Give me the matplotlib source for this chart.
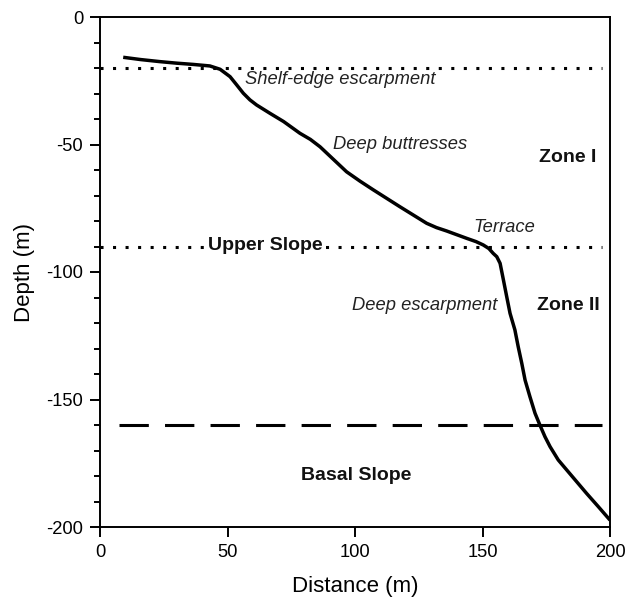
import matplotlib
matplotlib.use("Agg")
import matplotlib.pyplot as plt
from matplotlib.ticker import MultipleLocator

plt.rcParams['font.family'] = ['Liberation Sans', 'DejaVu Sans']
plt.rcParams['axes.unicode_minus'] = False

# ---- profile ----
distance = [9.1, 16, 23.5, 30, 36.6, 43.1, 47.1, 51.0, 53.5, 56.2, 58.8, 61.4,
            66.7, 72.0, 78.4, 82.5, 86.3, 91.5, 96.7, 102.0, 107.2, 117.6,
            128.1, 132.0, 135.9, 143.8, 147.5, 150.3, 152.5, 154.2, 155.6,
            156.9, 158.2, 159.5, 160.8, 162.7, 164.0, 165.4, 166.7, 168.6,
            170.6, 172.5, 174.5, 176.5, 179.7, 183.0, 186.9, 190.8, 195.4, 200.0]
depth = [-15.8, -16.7, -17.5, -18.1, -18.6, -19.2, -20.5, -23.4, -26.5, -29.9,
         -32.5, -34.5, -37.8, -41.0, -45.6, -48.0, -50.9, -55.8, -60.7, -64.4,
         -67.8, -74.4, -80.9, -82.6, -83.9, -86.8, -88.1, -89.4, -90.8, -92.7,
         -94.0, -96.6, -103.1, -109.7, -116.2, -122.7, -129.3, -135.8, -142.4,
         -148.9, -155.4, -160.0, -164.6, -168.5, -173.7, -177.6, -182.2,
         -186.8, -192.0, -197.3]

zone_lines = [-20, -90]      # dotted
basal_line = -160            # dashed

labels_italic = [("Shelf-edge escarpment", 57, -24.5),
                 ("Deep buttresses", 91.5, -50.0),
                 ("Terrace", 146.3, -82.4),
                 ("Deep escarpment", 98.8, -113)]
labels_bold = [("Zone I", 183.3, -55.0),
               ("Zone II", 183.7, -113.2),
               ("Basal Slope", 100.6, -179.8)]

fig = plt.figure(figsize=(6.3, 5.98), dpi=100)
ax = fig.add_axes([100/630, 1-527/598, 510/630, 510/598])

for y in zone_lines:
    ax.plot([0, 197], [y, y], color='black', lw=2.2, linestyle=(0, (1, 3.1)),
            dash_capstyle='butt', zorder=1)
ax.plot([7.4, 197], [basal_line, basal_line], color='black', lw=2.2,
        linestyle=(0, (9.6, 5.3)), dash_capstyle='butt', zorder=1)

ax.plot(distance, depth, color='black', lw=2.5, solid_capstyle='butt',
        solid_joinstyle='round', zorder=3)

for txt, x, y in labels_italic:
    ax.text(x, y, txt, fontsize=13.2, style='italic', ha='left', va='center',
            color='#222222')
for txt, x, y in labels_bold:
    ax.text(x, y, txt, fontsize=14, fontweight='bold', ha='center', va='center',
            color='#111111')
ax.text(64.7, -89.6, "Upper Slope", fontsize=14, fontweight='bold', ha='center',
        va='center', color='#111111',
        bbox=dict(facecolor='white', edgecolor='none', pad=0.5), zorder=2)

ax.set_xlim(0, 200)
ax.set_ylim(-200, 0)
ax.set_xticks([0, 50, 100, 150, 200])
ax.set_yticks([0, -50, -100, -150, -200])
ax.yaxis.set_minor_locator(MultipleLocator(10))
ax.tick_params(axis='both', which='major', direction='out', length=7.2,
               width=1.4, labelsize=13.2, pad=5)
ax.tick_params(axis='y', which='minor', direction='out', length=4.3, width=1.4)
ax.tick_params(top=False, right=False)
for s in ax.spines.values():
    s.set_linewidth(1.4)

ax.set_xlabel("Distance (m)", fontsize=16, labelpad=11)
ax.set_ylabel("Depth (m)", fontsize=16, labelpad=8)

fig.savefig("out.png", dpi=100)
